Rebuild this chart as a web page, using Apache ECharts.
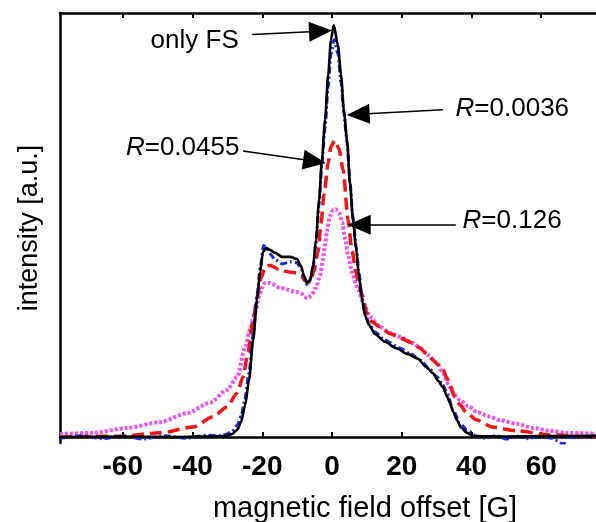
<!DOCTYPE html>
<html>
<head>
<meta charset="utf-8">
<script src="https://cdn.jsdelivr.net/npm/echarts@6/dist/echarts.min.js"></script>
<style>
  html, body { margin: 0; padding: 0; background: #fff; }
  #chart { width: 596px; height: 522px; }
</style>
</head>
<body>
<div id="chart"></div>
<script>
// EPR spectra: intensity (a.u., peak of "only FS" = 100) vs magnetic field offset (G)
const onlyFS = [[-78,0],[-60,0.1],[-45,0],[-37.8,0.1],[-30.7,0.2],[-28.7,0.7],[-27.2,1.7],[-26.1,3.6],[-24.9,7.8],[-23.8,13.8],[-22.6,23.5],[-21.5,33.3],[-20.6,40.0],[-19.8,44.9],[-18.9,45.9],[-17.8,45.4],[-16.3,44.7],[-14.3,43.7],[-12.0,43.7],[-10.0,43.2],[-8.9,41.5],[-8.0,39.1],[-7.2,37.4],[-6.3,38.1],[-5.4,41.7],[-4.6,47.8],[-3.7,57.5],[-2.9,67.2],[-2.0,76.9],[-1.1,87.9],[-0.3,96.4],[0.5,100],[1.7,95.1],[2.6,87.9],[3.4,79.4],[4.3,72.1],[5.2,61.2],[6.0,52.7],[6.9,45.9],[7.7,39.3],[8.6,33.3],[9.5,29.4],[10.6,27.2],[12.3,25.0],[15.2,23.1],[18.3,21.6],[21.8,20.1],[24.6,19.0],[27.0,17.0],[28.9,15.5],[30.5,13.6],[31.8,12.1],[33.0,9.8],[33.8,8.3],[34.8,6.0],[35.8,4.1],[37.0,2.3],[38.7,1.0],[40.4,0.2],[50,0.1],[60,0.2],[70,0.2],[78,0.3]];

const r0036 = [[-78,-0.3],[-72,0.3],[-66,-0.4],[-60,0.2],[-54,-0.5],[-48,0.3],[-42,-0.3],[-36,0.4],[-32,0.3],[-30.5,0.6],[-28.7,1.3],[-27.2,2.8],[-26.1,5.0],[-25.0,9.0],[-23.8,15.5],[-22.6,25],[-21.5,34.5],[-20.6,41],[-19.6,46.5],[-18.9,46.0],[-17.8,44.5],[-16.3,43.0],[-14.3,42.0],[-12.0,42.5],[-10.0,42.3],[-8.9,40.8],[-8.0,38.8],[-7.2,37.0],[-6.3,37.8],[-5.4,41.2],[-4.6,47.0],[-3.7,56.5],[-2.9,66],[-2.0,75],[-1.1,85],[-0.3,93],[0.6,96.4],[1.7,93],[2.6,86],[3.4,78.5],[4.3,71.5],[5.2,61.5],[6.0,53.5],[6.9,46.5],[7.7,40],[8.6,34],[9.5,30],[10.6,27.5],[12.3,25.5],[15.2,23.5],[19.5,21.6],[22.5,20.2],[25.2,18.7],[28,16.5],[30.1,14.6],[31.8,12.6],[33.0,10.7],[34.7,6.6],[36.7,3.4],[38.7,1.7],[41.5,0.2],[44,-0.3],[47,0.3],[50,-0.5],[53,0.2],[56,-0.4],[60,0.1],[63,-0.3],[66.5,-1.8],[67.2,0.2],[70,-0.2],[74,0.3],[78,0]];

const r0455 = [[-78,0],[-70,0.1],[-60.7,0.2],[-49.3,1.0],[-39.8,2.4],[-34.1,4.9],[-30.1,7.3],[-27.2,10.7],[-25.5,14.6],[-24.1,20.4],[-22.6,28.4],[-21.5,34.0],[-20.3,38.6],[-19.2,41.3],[-17.8,41.7],[-14.9,40.5],[-12.0,40.0],[-10.0,39.8],[-8.9,39.1],[-7.7,37.9],[-6.9,37.4],[-6.0,38.3],[-5.2,40.2],[-4.0,44.9],[-3.2,51.5],[-2.3,58.7],[-1.1,66.5],[-0.3,70.5],[0.8,72],[2.0,70],[3.2,64.8],[4.6,52.7],[5.7,45.4],[6.9,40.0],[7.7,36.9],[8.6,34.6],[10.0,30.1],[11.5,27.9],[13.8,26.7],[16.5,25.2],[19.5,24.0],[23.2,22.8],[25.2,21.6],[27.2,20.2],[28.9,18.7],[30.5,17.5],[31.8,16.3],[33.0,14.3],[33.8,12.6],[35.2,9.7],[36.7,7.8],[38.7,5.8],[41.5,4.1],[46.1,2.4],[52.9,1.5],[62.5,0.5],[73.1,0.1],[78,0.1]];

const r126 = [[-78,0.7],[-68.5,1.0],[-58.7,2.2],[-49.3,3.6],[-41.5,5.8],[-35.0,8.3],[-30.1,11.4],[-27.2,14.6],[-24.9,21.8],[-23.5,26.0],[-22.1,30.1],[-20.9,34.0],[-20.1,36.2],[-19.2,37.4],[-17.8,37.4],[-14.9,36.2],[-10.0,35.2],[-8.6,34.7],[-7.2,33.7],[-6.0,34.2],[-4.6,36.2],[-3.4,39.3],[-2.6,43.0],[-2.0,46.6],[-1.4,50.2],[-0.6,53.6],[0.3,55.1],[1.1,55.3],[2.0,54.4],[2.9,52.2],[3.7,48.3],[4.6,44.2],[5.7,40.0],[7.2,36.4],[9.2,32.0],[10.9,29.1],[13.8,26.7],[16.6,25.2],[19.5,24.3],[23.2,22.8],[25.2,21.6],[27.5,19.9],[30.1,18.0],[31.8,15.5],[33.8,12.1],[35.2,10.2],[36.7,9.0],[39.0,7.5],[41.5,6.1],[45.3,4.9],[48.1,4.1],[53.0,3.2],[57.6,2.2],[62.5,1.5],[67.3,1.0],[78,0.7]];

// axis ticks
const xTicks = [-60, -40, -20, 0, 20, 40, 60];
const xRange = [-78, 78];
const yRange = [-1.46, 102.9];

// annotation arrows (from, to) and labels, in data units
const arrowFrom = [[-22.9, 97.7], [31.8, 79.4], [-25.5, 69.4], [35.5, 51.5]];
const arrowTo   = [[-3.3, 98.5], [7.5, 78.3], [-5.0, 66.9], [7.8, 51.5]];
const labelText = ['only FS', '{i|R}=0.0036', '{i|R}=0.0455', '{i|R}=0.126'];
const labelAt   = [[-26.6, 96.2], [35.3, 79.6], [-26.4, 70.1], [37.3, 52.4]];
const labelSide = ['left', 'right', 'left', 'right'];

const FONT = '"Liberation Sans", Arial, Helvetica, sans-serif';

const chart = echarts.init(document.getElementById('chart'), null, { renderer: 'canvas' });

function lineSeries(name, data, color, width, dash, z) {
  return {
    name, type: 'line', data, xAxisIndex: 0, yAxisIndex: 0,
    showSymbol: false, symbol: 'none', smooth: 0.25, smoothMonotone: 'x',
    lineStyle: { color, width, type: dash, cap: 'butt' },
    z, animation: false, silent: true
  };
}

const black = lineSeries('only FS', onlyFS, '#000000', 2.6, 'solid', 5);
black.markLine = {
  silent: true, animation: false,
  symbol: ['none', 'triangle'], symbolSize: [20, 23],
  lineStyle: { color: '#000', width: 1.5, type: 'solid' },
  label: { show: false },
  data: arrowFrom.map((f, i) => [{ coord: f }, { coord: arrowTo[i] }])
};
black.markPoint = {
  silent: true, animation: false,
  symbol: 'circle', symbolSize: 1, itemStyle: { color: 'rgba(0,0,0,0)' },
  data: labelAt.map((c, i) => ({
    coord: c,
    label: {
      show: true, position: labelSide[i], distance: 0,
      formatter: labelText[i],
      color: '#000', fontSize: 26, fontFamily: FONT,
      rich: { i: { fontStyle: 'italic', fontSize: 26, fontFamily: FONT, color: '#000' } }
    }
  }))
};

const option = {
  backgroundColor: '#fff',
  animation: false,
  grid: { left: 60, right: -8, top: 13, bottom: 79, containLabel: false, outerBoundsMode: 'none' },
  xAxis: [
    {
      type: 'value', position: 'bottom', min: xRange[0], max: xRange[1],
      name: 'magnetic field offset [G]', nameLocation: 'middle', nameGap: 51,
      nameTextStyle: { fontSize: 29, fontFamily: FONT, color: '#000', padding: [0, 0, 0, 66] },
      axisLine: { show: true, lineStyle: { color: '#000', width: 2.5 } },
      axisTick: { show: true, inside: true, length: 5, customValues: xTicks, lineStyle: { color: '#000', width: 2 } },
      axisLabel: { show: true, customValues: xTicks, margin: 10, fontSize: 28, fontWeight: 'bold', fontFamily: FONT, color: '#000' },
      splitLine: { show: false }
    },
    {
      type: 'value', position: 'top', min: xRange[0], max: xRange[1],
      axisLine: { show: true, lineStyle: { color: '#000', width: 2.5 } },
      axisTick: { show: true, inside: true, length: 5, customValues: xTicks, lineStyle: { color: '#000', width: 2 } },
      axisLabel: { show: false },
      splitLine: { show: false }
    }
  ],
  yAxis: {
    type: 'value', min: yRange[0], max: yRange[1],
    name: 'intensity [a.u.]', nameLocation: 'middle', nameGap: 17, nameRotate: 90,
    nameTextStyle: { fontSize: 27, fontFamily: FONT, color: '#000' },
    axisLine: { show: true, onZero: false, lineStyle: { color: '#000', width: 2.5 } },
    axisTick: { show: false },
    axisLabel: { show: false },
    splitLine: { show: false }
  },
  series: [
    lineSeries('R=0.126', r126, '#f050f0', 4, [3, 2], 2),
    lineSeries('R=0.0455', r0455, '#f01414', 3.5, [12, 6], 3),
    lineSeries('R=0.0036', r0036, '#1428e6', 3, [7, 3, 2, 3], 4),
    black
  ]
};

chart.setOption(option);
</script>
</body>
</html>
